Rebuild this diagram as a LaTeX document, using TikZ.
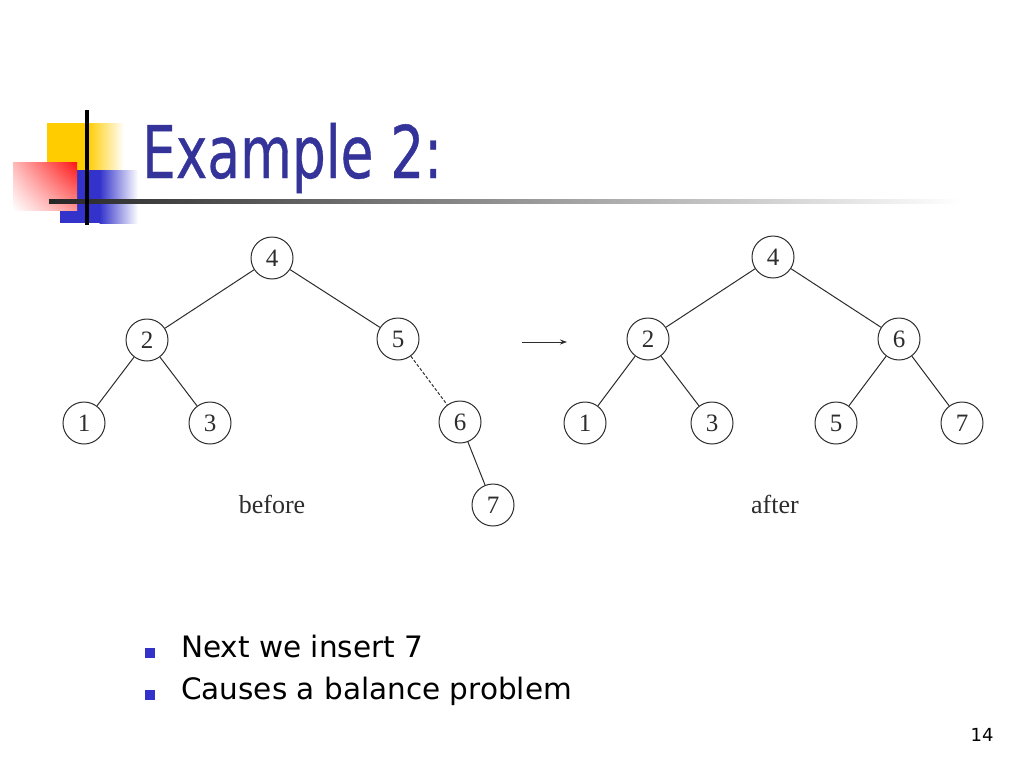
\documentclass[tikz,border=0pt]{standalone}
\usepackage{fontspec}
\usepackage{graphicx}
\setmainfont{Liberation Serif}
\newfontfamily\slidefont{DejaVu Sans}
\newfontfamily\titlefont[FakeBold=0.6]{DejaVu Sans}
\usetikzlibrary{arrows.meta,shadings}
\definecolor{titleblue}{RGB}{51,51,153}
\definecolor{bulletblue}{RGB}{51,51,204}
\definecolor{decoyellow}{RGB}{255,204,0}
\definecolor{decoblue}{RGB}{51,51,204}
\definecolor{decored}{RGB}{255,20,20}
\definecolor{inkgray}{RGB}{45,45,45}
\tikzset{
  treenode/.style={circle, draw=inkgray, line width=1pt, minimum size=42pt, inner sep=0pt, font=\fontsize{25}{25}\selectfont, text=inkgray},
  edge/.style={draw=inkgray, line width=1pt},
  dashededge/.style={draw=inkgray, line width=1pt, dashed, dash pattern=on 3pt off 2pt},
  caption/.style={font=\fontsize{26}{26}\selectfont, text=inkgray, anchor=base},
  bullettext/.style={font=\slidefont\fontsize{29.5}{30}\selectfont, anchor=base west, inner sep=0pt},
  bulletsq/.style={fill=bulletblue, draw=none, minimum size=10pt, inner sep=0pt}
}
\begin{document}
\begin{tikzpicture}[x=1pt,y=-1pt]
\useasboundingbox (0,0) rectangle (1024,768);
\fill[white] (0,0) rectangle (1024,768);
% decoration
\fill[decoyellow] (47,123) rectangle (88,172);
\shade[left color=decoyellow, right color=white] (87.5,123) rectangle (124,172);
\fill[decoblue] (60,170) rectangle (100,223);
\shade[left color=decoblue, right color=white] (99.5,170) rectangle (138,223);
\shade[upper left=decored!30!white, upper right=decored, lower left=white, lower right=decored!45!white] (13,162) rectangle (77,210);
\shade[left color=black!85, right color=white] (49,199) rectangle (962,203.5);
\draw[black, line width=3.5pt] (87,110) -- (87,225);
% title
\node[anchor=base west, inner sep=0pt, text=titleblue] (title) at (142,178)
  {\scalebox{0.735}[1]{\titlefont\fontsize{72.5}{72.5}\selectfont Example 2:}};
% before tree
\node[treenode] (b4) at (272,258) {4};
\node[treenode] (b2) at (147,340) {2};
\node[treenode] (b5) at (398,339) {5};
\node[treenode] (b1) at (84,423) {1};
\node[treenode] (b3) at (210,423) {3};
\node[treenode] (b6) at (460,422) {6};
\node[treenode] (b7) at (493,505) {7};
\draw[edge] (b4) -- (b2);
\draw[edge] (b4) -- (b5);
\draw[edge] (b2) -- (b1);
\draw[edge] (b2) -- (b3);
\draw[dashededge] (b5) -- (b6);
\draw[edge] (b6) -- (b7);
\node[caption] (before) at (272,513) {before};
% arrow
\coordinate (arrs) at (522,342);
\coordinate (arre) at (567,342);
\draw[inkgray, line width=1pt, -{Stealth[length=7pt,width=5pt]}] (arrs) -- (arre);
% after tree
\node[treenode] (a4) at (773,257) {4};
\node[treenode] (a2) at (648,339) {2};
\node[treenode] (a6) at (899,339) {6};
\node[treenode] (a1) at (585,423) {1};
\node[treenode] (a3) at (712,423) {3};
\node[treenode] (a5) at (836,423) {5};
\node[treenode] (a7) at (962,423) {7};
\draw[edge] (a4) -- (a2);
\draw[edge] (a4) -- (a6);
\draw[edge] (a2) -- (a1);
\draw[edge] (a2) -- (a3);
\draw[edge] (a6) -- (a5);
\draw[edge] (a6) -- (a7);
\node[caption] (after) at (775,513) {after};
% bullets
\node[bulletsq] (sq1) at (150,653) {};
\node[bullettext] (t1) at (181,657) {Next we insert 7};
\node[bulletsq] (sq2) at (150,695) {};
\node[bullettext] (t2) at (181,699) {Causes a balance problem};
% page number
\node[anchor=base, inner sep=0pt, font=\slidefont\fontsize{18}{18}\selectfont] (pg) at (982,741) {14};
\end{tikzpicture}
\end{document}
